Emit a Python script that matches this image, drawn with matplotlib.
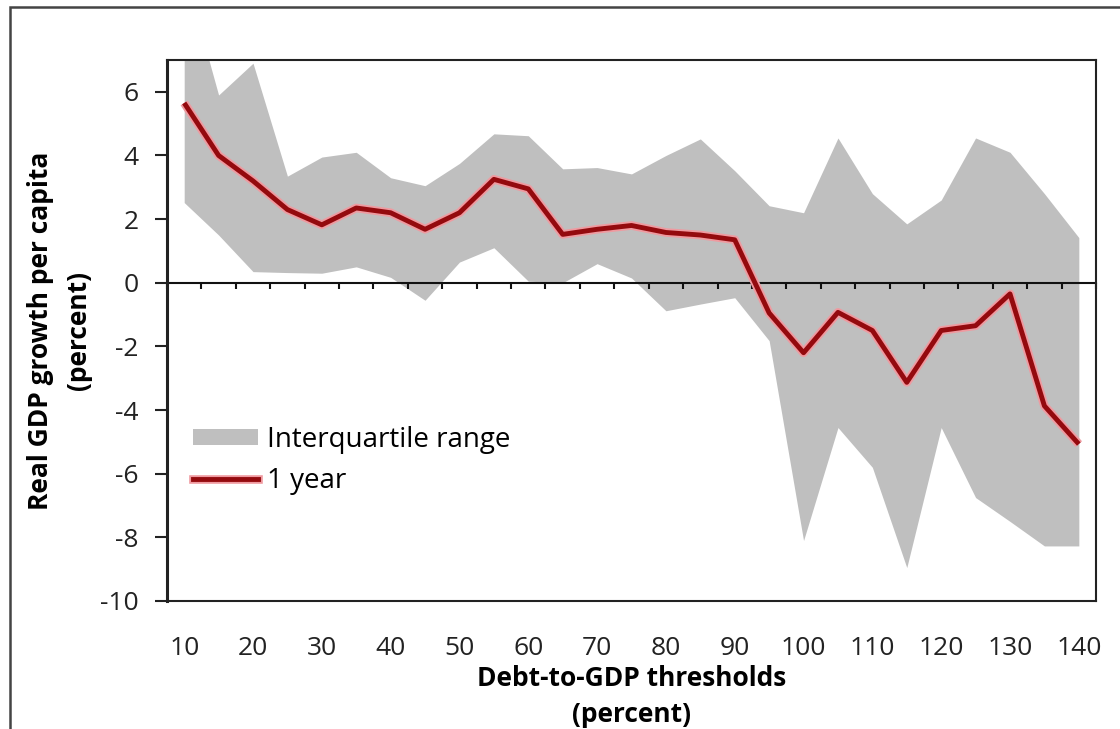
import matplotlib
matplotlib.use("Agg")
import matplotlib.pyplot as plt
import matplotlib.patheffects as pe
from matplotlib.patches import Patch, Rectangle
from matplotlib.lines import Line2D

plt.rcParams["font.family"] = ["Open Sans", "DejaVu Sans"]
plt.rcParams["axes.unicode_minus"] = False

# Debt-to-GDP thresholds (percent) and real GDP growth per capita (percent)
thresholds = [10, 15, 20, 25, 30, 35, 40, 45, 50, 55, 60, 65, 70, 75,
              80, 85, 90, 95, 100, 105, 110, 115, 120, 125, 130, 135, 140]
median_1yr = [5.65, 4.0, 3.2, 2.3, 1.82, 2.35, 2.2, 1.68, 2.2, 3.25, 2.95,
              1.52, 1.68, 1.8, 1.58, 1.5, 1.35, -0.95, -2.2, -0.93, -1.5,
              -3.13, -1.5, -1.35, -0.35, -3.87, -5.07]
iqr_upper = [9.8, 5.9, 6.9, 3.35, 3.95, 4.1, 3.3, 3.05, 3.75, 4.68, 4.62,
             3.58, 3.62, 3.42, 4.0, 4.52, 3.52, 2.42, 2.2, 4.55, 2.8, 1.85,
             2.6, 4.55, 4.1, 2.8, 1.42]
iqr_lower = [2.52, 1.5, 0.35, 0.32, 0.3, 0.5, 0.17, -0.55, 0.65, 1.1, 0.05,
             0.0, 0.6, 0.15, -0.88, -0.67, -0.47, -1.82, -8.1, -4.55, -5.8,
             -8.95, -4.55, -6.75, -7.5, -8.27, -8.27]
x_ticklabels = [10, 20, 30, 40, 50, 60, 70, 80, 90, 100, 110, 120, 130, 140]
y_ticks = [-10, -8, -6, -4, -2, 0, 2, 4, 6]

FILL = "#bfbfbf"
RED = "#940a0e"
step = thresholds[1] - thresholds[0]
xmin, xmax = thresholds[0] - step / 2, thresholds[-1] + step / 2
ymin, ymax = -10, 7

fig = plt.figure(figsize=(11.2, 7.29), dpi=100)
ax = fig.add_axes([0.1491, 0.1756, 0.8295, 0.7421])

ax.fill_between(thresholds, iqr_lower, iqr_upper, color=FILL, lw=0, zorder=1)
halo = [pe.Stroke(linewidth=6.2, foreground="#ef9aa0"), pe.Normal()]
ax.plot(thresholds, median_1yr, color=RED, lw=3.5, zorder=3,
        solid_joinstyle="round", solid_capstyle="butt", path_effects=halo)

ax.set_xlim(xmin, xmax)
ax.set_ylim(ymin, ymax)

# category labels along the bottom edge, no tick marks there
ax.set_xticks(x_ticklabels)
ax.set_xticklabels([str(v) for v in x_ticklabels])
ax.tick_params(axis="x", length=0, pad=25, labelsize=19, colors="#222222")

ax.set_yticks(y_ticks)
ax.set_yticklabels([str(v) for v in y_ticks])
ax.tick_params(axis="y", direction="out", length=8.5, width=1.5, pad=12,
               labelsize=19, colors="#222222")

for side in ("top", "right", "bottom"):
    ax.spines[side].set_linewidth(1.5)
    ax.spines[side].set_color("#222222")
ax.spines["left"].set_linewidth(2.2)
ax.spines["left"].set_color("#222222")

# horizontal category axis crossing at zero, tick marks between categories
zero_frac = (0 - ymin) / (ymax - ymin)
zax = ax.secondary_xaxis(zero_frac)
zax.set_zorder(2)
bounds = [t - step / 2 for t in thresholds] + [thresholds[-1] + step / 2]
zax.set_xticks(bounds)
zax.tick_params(axis="x", direction="in", length=4.5, width=1.5,
                labeltop=False, labelbottom=False, color="#111111")
zax.spines["top"].set_linewidth(1.5)
zax.spines["top"].set_color("#111111")

ax.set_xlabel("Debt-to-GDP thresholds\n(percent)", fontsize=19,
              fontweight="bold", linespacing=1.45, labelpad=3)
ax.set_ylabel("Real GDP growth per capita\n(percent)", fontsize=19,
              fontweight="bold", linespacing=1.5, labelpad=6)

handles = [Patch(facecolor=FILL, edgecolor="none"),
           Line2D([], [], color=RED, lw=3.5, path_effects=halo)]
ax.legend(handles, ["Interquartile range", "1 year"], loc="upper left",
          bbox_to_anchor=(0.028, 0.323), frameon=False, fontsize=20,
          handlelength=2.35, handleheight=0.5, handletextpad=0.3,
          labelspacing=0.45, borderpad=0, borderaxespad=0)

# outer frame of the exhibit
fig.patches.append(Rectangle((10 / 1120, -0.5), 2.0, 0.5 + 1 - 7 / 729,
                             transform=fig.transFigure, fill=False,
                             edgecolor="#444444", lw=1.8))

fig.savefig("out.png", dpi=100, facecolor="white")
